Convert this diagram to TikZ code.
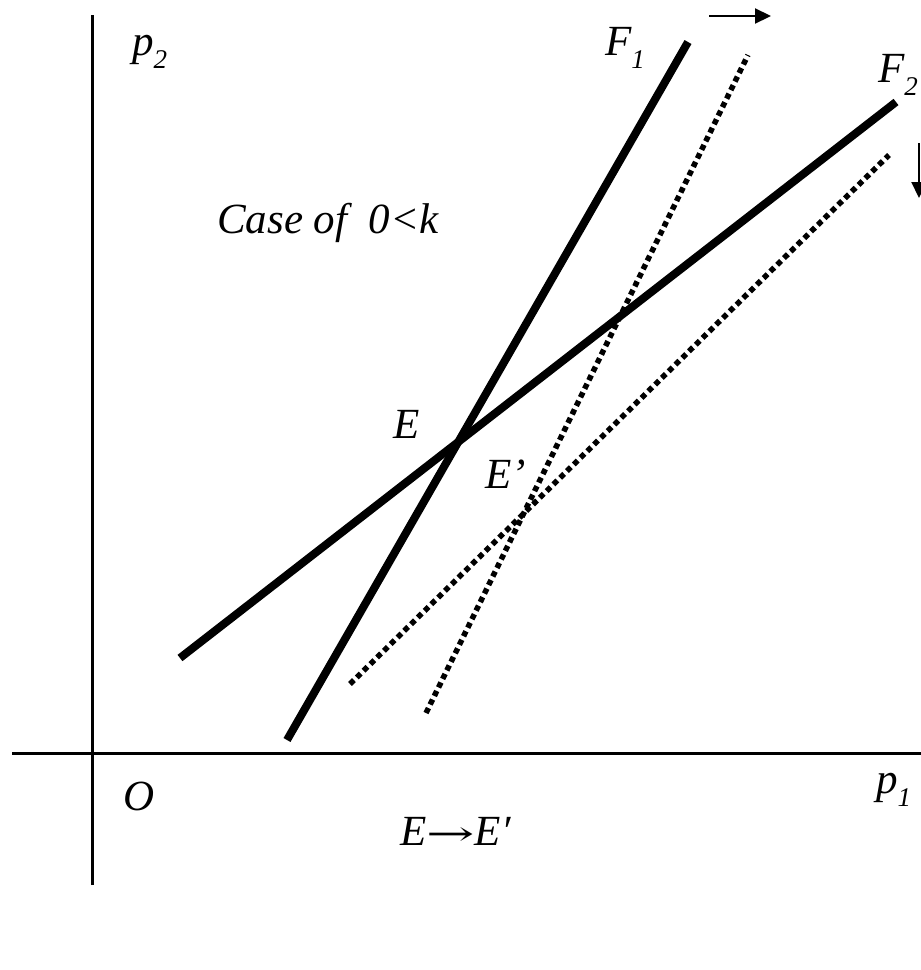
\documentclass[tikz,border=0pt]{standalone}
\usepackage{fontspec}
\usepackage{graphicx}
\setmainfont{Liberation Serif}
\newfontfamily\arrowfont{DejaVu Serif}
\usetikzlibrary{arrows.meta}
\newcommand\lblsub[1]{\raisebox{-0.32em}{\fontsize{27}{27}\selectfont\itshape #1}}
\tikzset{
  axis/.style={line width=3pt},
  solidcurve/.style={line width=8pt},
  dotcurve/.style={line width=5.5pt, dash pattern=on 5.5pt off 4pt},
  shiftarrow/.style={line width=2.2pt, -{Triangle[length=16pt,width=15pt]}},
  lbl/.style={anchor=base west, inner sep=0pt, font=\fontsize{43}{43}\selectfont\itshape}
}
\begin{document}
\begin{tikzpicture}[x=1pt,y=-1pt]
\useasboundingbox (0,0) rectangle (921,970);
% axes
\coordinate (vtop) at (92,15);
\coordinate (vbot) at (92,885);
\coordinate (hl) at (12,753);
\coordinate (hr) at (921,753);
\draw[axis] (vbot) -- (vtop);
\draw[axis] (hl) -- (hr);
% curves
\coordinate (f1a) at (287,740);
\coordinate (f1b) at (688,42);
\coordinate (f2a) at (180,658);
\coordinate (f2b) at (896,102);
\coordinate (g1a) at (426,713);
\coordinate (g1b) at (748,55);
\coordinate (g2a) at (350,684);
\coordinate (g2b) at (889,155);
\draw[solidcurve] (f1a) -- (f1b);
\draw[solidcurve] (f2a) -- (f2b);
\draw[dotcurve] (g1a) -- (g1b);
\draw[dotcurve] (g2a) -- (g2b);
% shift arrows
\coordinate (ra) at (709,16);
\coordinate (rb) at (771,16);
\draw[shiftarrow] (ra) -- (rb);
\coordinate (da) at (919,143);
\coordinate (db) at (919,198);
\draw[shiftarrow] (da) -- (db);
% labels
\node[lbl] (p2) at (132,55) {p\lblsub{2}};
\node[lbl] (F1) at (605,55) {F\lblsub{1}};
\node[lbl] (F2) at (878,82) {F\lblsub{2}};
\node[lbl] (case) at (217,233) {Case of\ \ 0<k};
\node[lbl] (E) at (393,438) {E};
\node[lbl] (Ep) at (485,488) {E’};
\node[lbl] (O) at (123,810) {O};
\node[lbl] (p1) at (876,793) {p\lblsub{1}};
\node[lbl] (move) at (400,845) {E{\upshape\arrowfont\fontsize{34}{34}\selectfont\scalebox{1.7}[1]{→}}E′};
\end{tikzpicture}
\end{document}
